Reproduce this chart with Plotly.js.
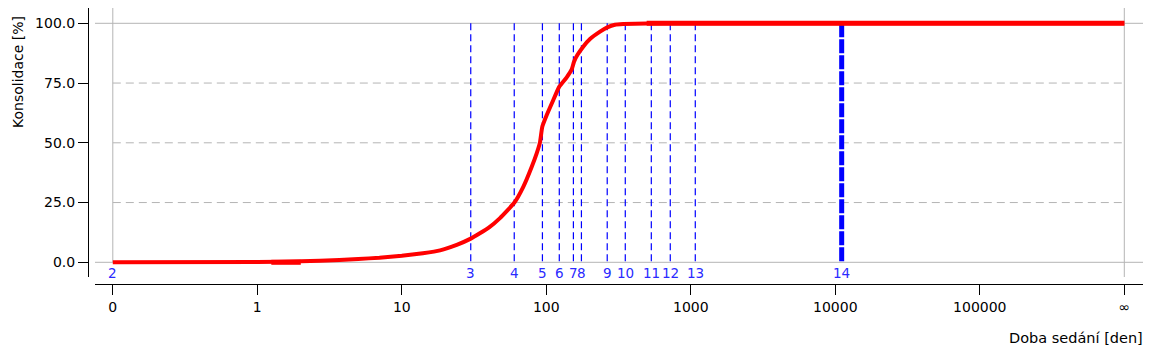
<!DOCTYPE html>
<html>
<head>
<meta charset="utf-8">
<script src="https://cdn.plot.ly/plotly-3.0.1.min.js"></script>
<style>html,body{margin:0;padding:0;background:#fff;}#chart{width:1154px;height:354px;}</style>
</head>
<body>
<div id="chart"></div>
<script>
// ---- data ----
const curveDays = [0, 1, 2, 3.7, 5, 7, 10, 14, 18.4, 24, 30, 40, 47.8, 60, 69.3, 79.3, 85.8, 90.4, 93.8, 100.7, 111.8, 123, 138.4, 149.9, 155.5, 164, 180, 200.6, 235.4, 264.3, 298.6, 341, 495, 1000, 11070, Infinity];
const curveCons = [0, 0.1, 0.4, 1.0, 1.4, 1.9, 2.7, 3.8, 5.0, 7.3, 9.9, 14.5, 18.5, 24.9, 31.6, 40, 45.6, 50.2, 56.7, 61.6, 67.9, 73.5, 77.4, 80.7, 83.9, 86.7, 90.2, 93.4, 96.5, 98.3, 99.4, 99.7, 99.95, 100, 100, 100];
const startSegDays = [1.25, 2];
const startSegCons = [0, 0];
const endSegDays = [495, Infinity];
const endSegCons = [100, 100];
const stageLabels = ['2', '3', '4', '5', '6', '7', '8', '9', '10', '11', '12', '13', '14'];
const stageDays = [0, 30, 60, 94, 123, 154, 175, 264, 352, 533, 721, 1074, 11070];
const xTickVals = [0, 1, 10, 100, 1000, 10000, 100000, Infinity];
const xTickText = ['0', '1', '10', '100', '1000', '10000', '100000', '\u221e'];
const yTickVals = [0, 25, 50, 75, 100];
const xTitle = 'Doba sedání [den]';
const yTitle = 'Konsolidace [%]';

// axis position used for 0 and infinity on the log axis
const ZERO_AT = 0.1, INF_AT = 1e6;
const pos = d => d === 0 ? ZERO_AT : (d === Infinity ? INF_AT : d);

const FONT = 'DejaVu Sans, Verdana, sans-serif';
const GRID = '#b4b4b4';

const traces = [
  {x: curveDays.map(pos), y: curveCons, mode: 'lines', line: {color: '#ff0000', width: 4, shape: 'spline', smoothing: 0.4}, hoverinfo: 'skip'},
  {x: startSegDays.map(pos), y: startSegCons, mode: 'lines', line: {color: '#ff0000', width: 5}, hoverinfo: 'skip'},
  {x: endSegDays.map(pos), y: endSegCons, mode: 'lines', line: {color: '#ff0000', width: 5}, hoverinfo: 'skip'}
];

const shapes = [];
// horizontal gridlines
yTickVals.forEach(v => {
  if (v === 0 || v === 100) {
    shapes.push({type: 'line', layer: 'below', xref: 'paper', yref: 'y', x0: 7/1055, x1: 1, y0: v, y1: v, line: {color: GRID, width: 1}});
  } else {
    shapes.push({type: 'line', layer: 'below', xref: 'x', yref: 'y', x0: pos(0), x1: pos(Infinity), y0: v, y1: v, line: {color: GRID, width: 1, dash: '8px,5px'}});
  }
});
// vertical gridlines at 0 and infinity
shapes.push({type: 'line', layer: 'below', xref: 'x', yref: 'paper', x0: pos(0), x1: pos(0), y0: (284-262)/276, y1: 1, line: {color: GRID, width: 1}});
shapes.push({type: 'line', layer: 'below', xref: 'x', yref: 'paper', x0: pos(Infinity), x1: pos(Infinity), y0: 7/276, y1: 1, line: {color: GRID, width: 1}});
// stage lines
stageDays.forEach((d, i) => {
  if (d === 0) return;
  const last = i === stageDays.length - 1;
  shapes.push({type: 'line', layer: 'below', xref: 'x', yref: 'y', x0: pos(d), x1: pos(d), y0: 100, y1: 0,
    line: {color: '#0000ff', width: last ? 5 : 1.2, dash: last ? '14px,2px' : '7px,4px'}});
});

const annotations = stageDays.map((d, i) => ({
  x: Math.log10(pos(d)), y: 0, xref: 'x', yref: 'y', text: stageLabels[i], showarrow: false,
  xanchor: 'center', yanchor: 'middle', yshift: -10.5, font: {family: FONT, size: 13.5, color: '#2a2aff'}
}));
annotations.push({xref: 'paper', yref: 'paper', x: (18-88)/1055, y: (284-72)/276, text: yTitle, textangle: -90,
  showarrow: false, xanchor: 'center', yanchor: 'middle', font: {family: FONT, size: 14, color: '#000'}});
annotations.push({xref: 'paper', yref: 'paper', x: 1, y: (284-338)/276, text: xTitle,
  showarrow: false, xanchor: 'right', yanchor: 'middle', xshift: 2, font: {family: FONT, size: 14.5, color: '#000'}});

const layout = {
  width: 1154, height: 354,
  margin: {l: 88, r: 11, t: 8, b: 70, pad: 0},
  paper_bgcolor: '#fff', plot_bgcolor: '#fff',
  showlegend: false,
  font: {family: FONT, size: 14, color: '#000'},
  xaxis: {
    type: 'log', range: [-1.1232, 6.1294], domain: [7/1055, 1],
    anchor: 'free', position: 0,
    showgrid: false, zeroline: false,
    showline: true, linecolor: '#000', linewidth: 1,
    ticks: 'outside', ticklen: 10, tickcolor: '#000', tickwidth: 1,
    tickmode: 'array', tickvals: xTickVals.map(pos), ticktext: xTickText,
    tickfont: {family: FONT, size: 14, color: '#000'}
  },
  yaxis: {
    range: [-6.15, 106.4], domain: [7/276, 1],
    anchor: 'free', position: 0,
    showgrid: false, zeroline: false,
    showline: true, linecolor: '#000', linewidth: 1,
    ticks: 'outside', ticklen: 10, tickcolor: '#000', tickwidth: 1,
    tickmode: 'array', tickvals: yTickVals, tickformat: '.1f',
    tickfont: {family: FONT, size: 14, color: '#000'}
  },
  shapes: shapes,
  annotations: annotations
};

Plotly.newPlot('chart', traces, layout, {displayModeBar: false, staticPlot: true});
</script>
</body>
</html>
